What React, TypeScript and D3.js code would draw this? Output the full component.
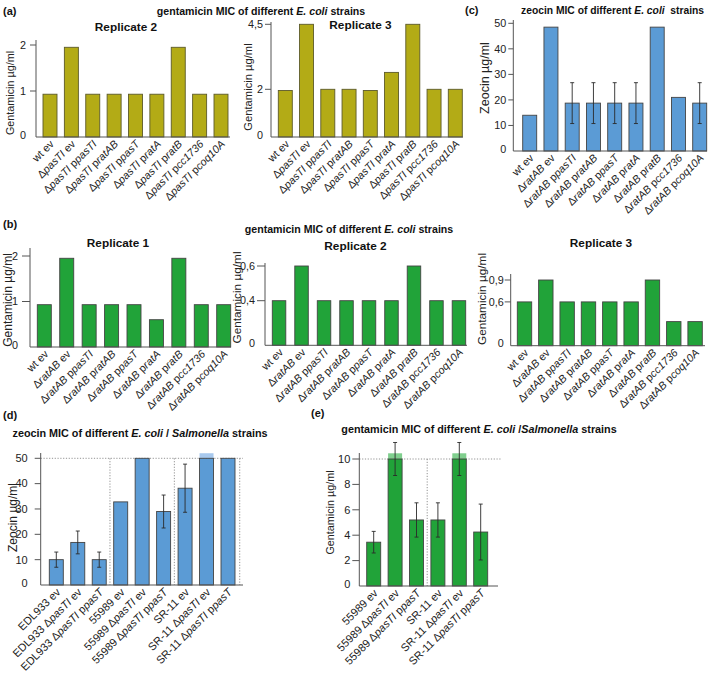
import React, { useEffect } from "react";
import * as d3 from "d3";

// ---------- data ----------
const strainsA = ["wt ev", "ΔpasTI ev", "ΔpasTI ppasTI", "ΔpasTI pratAB", "ΔpasTI ppasT", "ΔpasTI pratA", "ΔpasTI pratB", "ΔpasTI pcc1736", "ΔpasTI pcoq10A"];
const gentA_rep2 = [0.93, 1.95, 0.93, 0.93, 0.93, 0.93, 1.95, 0.93, 0.93];
const gentA_rep3 = [1.95, 4.5, 2, 2, 1.95, 2.65, 4.5, 2, 2];

const strainsB = ["wt ev", "ΔratAB ev", "ΔratAB ppasTI", "ΔratAB pratAB", "ΔratAB ppasT", "ΔratAB pratA", "ΔratAB pratB", "ΔratAB pcc1736", "ΔratAB pcoq10A"];
const zeoC = [14, 48.5, 18.75, 18.75, 18.75, 18.75, 48.5, 21, 18.75];
const zeoC_err = [0, 0, 8, 8, 8, 8, 0, 0, 8];
const gentB_rep1 = [0.93, 1.95, 0.93, 0.93, 0.93, 0.6, 1.95, 0.93, 0.93];
const gentB_rep2 = [0.4, 0.6, 0.4, 0.4, 0.4, 0.4, 0.6, 0.4, 0.4];
const gentB_rep3 = [0.6, 0.9, 0.6, 0.6, 0.6, 0.6, 0.9, 0.33, 0.33];

const strainsD = ["EDL933 ev", "EDL933 ΔpasTI ev", "EDL933 ΔpasTI ppasT", "55989 ev", "55989 ΔpasTI ev", "55989 ΔpasTI ppasT", "SR-11 ev", "SR-11 ΔpasTI ev", "SR-11 ΔpasTI ppasT"];
const zeoD = [10, 16.8, 10, 32.8, 50, 29, 38.2, 50, 50];
const zeoD_err = [3, 4.5, 3, 0, 0, 6.5, 9.5, 0, 0];
const zeoD_over = [0, 0, 0, 0, 0, 0, 0, 52, 0];

const strainsE = ["55989 ev", "55989 ΔpasTI ev", "55989 ΔpasTI ppasT", "SR-11 ev", "SR-11 ΔpasTI ev", "SR-11 ΔpasTI ppasT"];
const gentE = [3.45, 10, 5.2, 5.2, 10, 4.25];
const gentE_err = [0.85, 1.3, 1.35, 1.35, 1.3, 2.2];
const gentE_over = [0, 10.45, 0, 0, 10.45, 0];

const ticksA2 = [0, 1, 2];
const ticksA3 = [0, 2, 4.5];
const ticksC = [0, 10, 20, 30, 40, 50];
const ticksB1 = [0, 1, 2];
const ticksB2 = [0, 0.4, 0.6];
const ticksB3 = [0, 0.6, 0.9];
const ticksD = [0, 10, 20, 30, 40, 50];
const ticksE = [0, 2, 4, 6, 8, 10];

// ---------- styles ----------
const FONT = "'Liberation Sans', Arial, Helvetica, sans-serif";
const OLIVE = "#b3ab16";
const BLUE = "#5b9bd5";
const GREEN = "#21a339";
const LIGHT_BLUE = "#a8c9ee";
const LIGHT_GREEN = "#80cf8e";
const AXIS = "#555";
const XL = 10.8;
const TK = 10.8;
const fmtComma = (v: number) => String(v).replace(".", ",");

function StrainLabel({ s }: { s: string }) {
  const toks = s.split(" ");
  const out: any[] = [];
  toks.forEach((t, i) => {
    const sp = i > 0 ? " " : "";
    if (t.startsWith("Δ")) {
      out.push(<tspan key={i + "a"}>{sp + "Δ"}</tspan>);
      out.push(<tspan key={i + "b"} fontStyle="italic">{t.slice(1)}</tspan>);
    } else if (/^p[a-z]/.test(t)) {
      out.push(<tspan key={i + "a"}>{sp + "p"}</tspan>);
      out.push(<tspan key={i + "b"} fontStyle="italic">{t.slice(1)}</tspan>);
    } else {
      out.push(<tspan key={i}>{sp + t}</tspan>);
    }
  });
  return <>{out}</>;
}

type PanelProps = {
  labels: string[];
  values: number[];
  errs?: number[];
  over?: number[];
  x0: number; x1: number; bw: number;
  yDomain: number[]; yRange: number[];
  ticks: number[];
  axisX: number; axisTop: number; axisRight: number;
  tickLen?: number; labelGap?: number;
  fill: string; overFill?: string; stroke?: string;
  yTitle: string; yTitleX: number; yTitleY: number; yTitleSize: number;
  tickSize?: number; xLabelSize?: number;
  refLine?: { value: number; right: number; verticals: number[] };
};

function BarPanel(p: PanelProps) {
  const n = p.labels.length;
  const step0 = (p.x1 - p.x0 - p.bw) / (n - 1);
  const x = d3.scaleBand<string>()
    .domain(p.labels)
    .range([p.x0, p.x1])
    .paddingInner(1 - p.bw / step0)
    .paddingOuter(0);
  const y = d3.scaleLinear().domain(p.yDomain).range(p.yRange);
  const base = y(0);
  const tickLen = p.tickLen ?? 6;
  const labelGap = p.labelGap ?? 2;
  const tickSize = p.tickSize ?? TK;
  const xls = p.xLabelSize ?? XL;
  return (
    <g>
      {p.refLine && (
        <g stroke="#777" strokeWidth={0.8} strokeDasharray="1.2,1.6" fill="none">
          <line x1={p.axisX} x2={p.refLine.right} y1={y(p.refLine.value)} y2={y(p.refLine.value)} />
          {p.refLine.verticals.map((i, k) => {
            const xx = i >= n ? (x(p.labels[n - 1]) as number) + x.bandwidth() + (x.step() - x.bandwidth()) / 2 + 1
              : ((x(p.labels[i - 1]) as number) + x.bandwidth() + (x(p.labels[i]) as number)) / 2;
            return <line key={k} x1={xx} x2={xx} y1={y(p.refLine!.value)} y2={base} />;
          })}
        </g>
      )}
      {p.labels.map((l, i) => {
        const ov = p.over ? p.over[i] : 0;
        return ov > 0 ? (
          <rect key={"o" + i} x={x(l)} width={x.bandwidth()} y={y(ov)} height={y(p.values[i]) - y(ov)}
            fill={p.overFill} stroke="none" />
        ) : null;
      })}
      {p.labels.map((l, i) => (
        <rect key={l} x={x(l)} width={x.bandwidth()} y={y(p.values[i])} height={base - y(p.values[i])}
          fill={p.fill} stroke={p.stroke ?? "#444"} strokeWidth={0.9} />
      ))}
      {p.errs && p.labels.map((l, i) => {
        const e = p.errs![i];
        if (!e) return null;
        const cx = (x(l) as number) + x.bandwidth() / 2;
        const yt = y(p.values[i] + e), yb = y(p.values[i] - e);
        return (
          <g key={"e" + i} stroke="#2a2a2a" strokeWidth={0.9}>
            <line x1={cx} x2={cx} y1={yt} y2={yb} />
            <line x1={cx - 2} x2={cx + 2} y1={yt} y2={yt} />
            <line x1={cx - 2} x2={cx + 2} y1={yb} y2={yb} />
          </g>
        );
      })}
      <line x1={p.axisX} x2={p.axisX} y1={p.axisTop} y2={base} stroke={AXIS} strokeWidth={1} />
      <line x1={p.axisX} x2={p.axisRight} y1={base} y2={base} stroke={AXIS} strokeWidth={1} />
      {p.ticks.map((t) => (
        <g key={"t" + t}>
          {t !== 0 && <line x1={p.axisX - tickLen} x2={p.axisX} y1={y(t)} y2={y(t)} stroke={AXIS} strokeWidth={1} />}
          <text x={p.axisX - tickLen - labelGap} y={y(t) - (t === 0 ? 2 : 0)} dy="0.35em" textAnchor="end"
            fontSize={tickSize} fill="#222">{fmtComma(t)}</text>
        </g>
      ))}
      {p.labels.map((l) => {
        const cx = (x(l) as number) + x.bandwidth() / 2 + 2;
        return (
          <text key={"xl" + l} transform={`translate(${cx},${base + 5}) rotate(-45)`} textAnchor="end" dy="0.35em"
            fontSize={xls} fill="#222" style={{ whiteSpace: "pre" }}>
            <StrainLabel s={l} />
          </text>
        );
      })}
      <text transform={`translate(${p.yTitleX},${p.yTitleY}) rotate(-90)`} textAnchor="middle" dy="0.35em"
        fontSize={p.yTitleSize} fill="#222">{p.yTitle}</text>
    </g>
  );
}

function Title({ x, y, anchor = "middle", size = 10.6, parts }: { x: number; y: number; anchor?: string; size?: number; parts: [string, boolean][] }) {
  return (
    <text x={x} y={y} textAnchor={anchor as any} fontSize={size} fontWeight="bold" fill="#111" style={{ whiteSpace: "pre" }}>
      {parts.map(([t, it], i) => <tspan key={i} fontStyle={it ? "italic" : "normal"}>{t}</tspan>)}
    </text>
  );
}

export default function App() {
  useEffect(() => {
    document.body.style.margin = "0";
  }, []);
  return (
    <svg width={709} height={676} style={{ position: "absolute", left: 0, top: 0, background: "#fff" }}
      fontFamily={FONT}>
      {/* panel labels */}
      <Title x={3} y={15} anchor="start" size={11} parts={[["(a)", false]]} />
      <Title x={465} y={14} anchor="start" size={11} parts={[["(c)", false]]} />
      <Title x={3} y={228} anchor="start" size={11} parts={[["(b)", false]]} />
      <Title x={3} y={419} anchor="start" size={11} parts={[["(d)", false]]} />
      <Title x={311} y={417} anchor="start" size={11} parts={[["(e)", false]]} />

      {/* main titles */}
      <Title x={261} y={14.5} parts={[["gentamicin MIC of different ", false], ["E. coli", true], [" strains", false]]} />
      <Title x={521} y={14} anchor="start" size={10.3} parts={[["zeocin MIC of different ", false], ["E. coli", true], ["  strains", false]]} />
      <Title x={349} y={233} parts={[["gentamicin MIC of different ", false], ["E. coli", true], [" strains", false]]} />
      <Title x={140} y={437} size={10.8} parts={[["zeocin MIC of different ", false], ["E. coli", true], [" / ", false], ["Salmonella", true], [" strains", false]]} />
      <Title x={479} y={433} size={10.8} parts={[["gentamicin MIC of different ", false], ["E. coli", true], [" /", false], ["Salmonella", true], [" strains", false]]} />

      {/* replicate titles */}
      <Title x={126} y={30.5} size={11.8} parts={[["Replicate 2", false]]} />
      <Title x={360.5} y={29} size={11.8} parts={[["Replicate 3", false]]} />
      <Title x={118} y={247} size={11.8} parts={[["Replicate 1", false]]} />
      <Title x={355.5} y={250} size={11.8} parts={[["Replicate 2", false]]} />
      <Title x={601} y={247} size={11.8} parts={[["Replicate 3", false]]} />

      {/* (a) */}
      <BarPanel labels={strainsA} values={gentA_rep2} x0={43} x1={228} bw={14}
        yDomain={[0, 2]} yRange={[137, 45]} ticks={ticksA2}
        axisX={36} axisTop={40} axisRight={230} tickLen={6} labelGap={4} fill={OLIVE} stroke="#5c5a2a"
        yTitle="Gentamicin µg/ml" yTitleX={10} yTitleY={93} yTitleSize={10.8} />
      <BarPanel labels={strainsA} values={gentA_rep3} x0={278.3} x1={462.3} bw={14}
        yDomain={[0, 2, 4.5]} yRange={[137, 89.3, 24.3]} ticks={ticksA3}
        axisX={271} axisTop={22} axisRight={463} fill={OLIVE} stroke="#5c5a2a"
        yTitle="Gentamicin µg/ml" yTitleX={248} yTitleY={87} yTitleSize={11.2} />

      {/* (c) */}
      <BarPanel labels={strainsB} values={zeoC} errs={zeoC_err} x0={522.7} x1={706.7} bw={14}
        yDomain={[0, 50]} yRange={[151, 23.3]} ticks={ticksC}
        axisX={513.3} axisTop={20} axisRight={707} tickLen={5} labelGap={2} fill={BLUE}
        yTitle="Zeocin µg/ml" yTitleX={485} yTitleY={78} yTitleSize={12.5} />

      {/* (b) */}
      <BarPanel labels={strainsB} values={gentB_rep1} x0={37.3} x1={230.7} bw={14}
        yDomain={[0, 2]} yRange={[347, 256]} ticks={ticksB1}
        axisX={30} axisTop={248} axisRight={231} tickLen={8} labelGap={4} fill={GREEN}
        yTitle="Gentamicin µg/ml" yTitleX={8} yTitleY={300} yTitleSize={12} />
      <BarPanel labels={strainsB} values={gentB_rep2} x0={272.3} x1={465.7} bw={13.5}
        yDomain={[0, 0.4, 0.6]} yRange={[345.3, 300.7, 266]} ticks={ticksB2}
        axisX={265} axisTop={263} axisRight={467} tickLen={8} labelGap={2} fill={GREEN}
        yTitle="Gentamicin µg/ml" yTitleX={237} yTitleY={297.5} yTitleSize={11.8} />
      <BarPanel labels={strainsB} values={gentB_rep3} x0={517.3} x1={702.3} bw={14.4}
        yDomain={[0, 0.9]} yRange={[345.7, 280]} ticks={ticksB3}
        axisX={510.7} axisTop={274} axisRight={705} tickLen={6} labelGap={1} fill={GREEN}
        yTitle="Gentamicin µg/ml" yTitleX={481.7} yTitleY={299} yTitleSize={11.8} />

      {/* (d) */}
      <BarPanel labels={strainsD} values={zeoD} errs={zeoD_err} over={zeoD_over} x0={49.3} x1={235} bw={14}
        yDomain={[0, 50]} yRange={[585, 458.3]} ticks={ticksD}
        axisX={40.7} axisTop={453} axisRight={243} tickLen={6} labelGap={7} fill={BLUE} overFill={LIGHT_BLUE}
        yTitle="Zeocin µg/ml" yTitleX={13} yTitleY={517.5} yTitleSize={12} xLabelSize={11} tickSize={11}
        refLine={{ value: 50, right: 243, verticals: [3, 6, 9] }} />

      {/* (e) */}
      <BarPanel labels={strainsE} values={gentE} errs={gentE_err} over={gentE_over} x0={366.7} x1={487.7} bw={14}
        yDomain={[0, 10]} yRange={[586, 459]} ticks={ticksE}
        axisX={359.3} axisTop={453} axisRight={498} tickLen={7} labelGap={2} fill={GREEN} overFill={LIGHT_GREEN}
        yTitle="Gentamicin µg/ml" yTitleX={330.7} yTitleY={512.5} yTitleSize={10.8} xLabelSize={11} tickSize={11}
        refLine={{ value: 10, right: 501.7, verticals: [3] }} />
    </svg>
  );
}
